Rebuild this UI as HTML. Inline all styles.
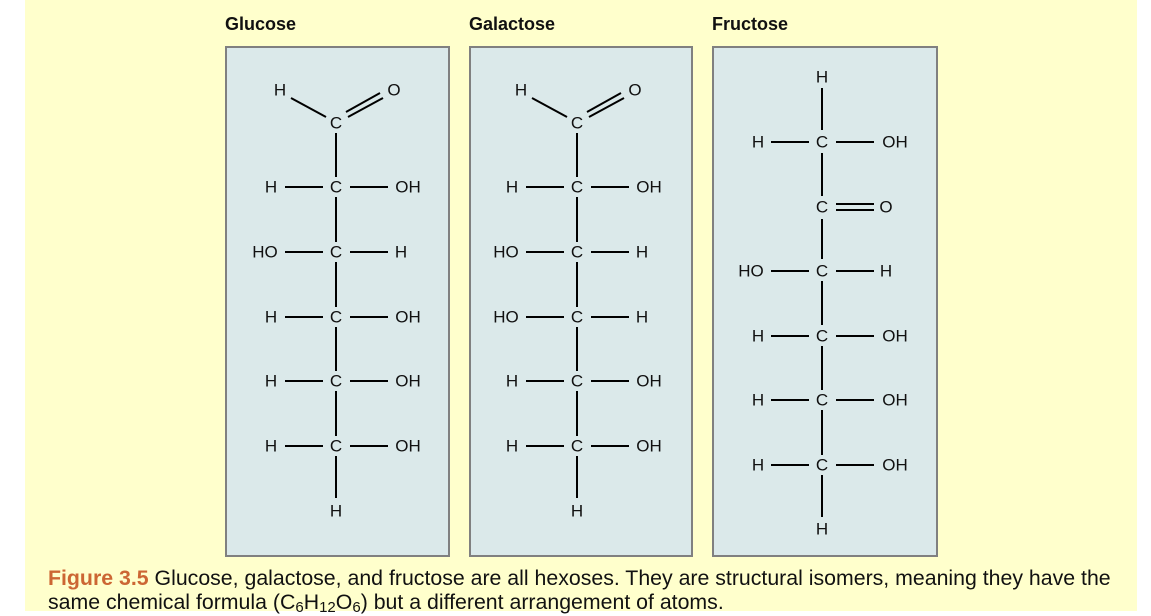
<!DOCTYPE html>
<html><head><meta charset="utf-8"><style>
html,body{margin:0;padding:0;background:#fff;}
body{width:1151px;height:611px;position:relative;overflow:hidden;font-family:"Liberation Sans",sans-serif;}
.bg{position:absolute;left:25px;top:0;width:1112px;height:611px;background:#ffffcc;}
svg{position:absolute;left:0;top:0;}
svg text{font-family:"Liberation Sans",sans-serif;font-size:17px;fill:#111;text-anchor:middle;dominant-baseline:central;}
svg line{stroke:#000;stroke-width:2;}
.t{font-weight:bold;font-size:18px;text-anchor:start;}
.cap{position:absolute;left:48px;top:566px;font-size:21.3px;line-height:24px;color:#111;width:1085px;white-space:nowrap;}
.cap b{color:#cc6633;}
.cap sub{font-size:15px;vertical-align:-3px;line-height:0;}
</style></head><body>
<div class="bg"></div>
<svg width="1151" height="611">
<text class="t" x="225" y="24">Glucose</text>
<text class="t" x="469" y="24">Galactose</text>
<text class="t" x="712" y="24">Fructose</text>
<rect x="226" y="47" width="223" height="509" fill="#dbe9ea" stroke="#808080" stroke-width="2"/>
<rect x="470" y="47" width="222" height="509" fill="#dbe9ea" stroke="#808080" stroke-width="2"/>
<rect x="713" y="47" width="224" height="509" fill="#dbe9ea" stroke="#808080" stroke-width="2"/>

<!-- Glucose -->
<g transform="translate(336,0)">
<text x="-56" y="90">H</text><line x1="-45" y1="98" x2="-10" y2="117"/>
<text x="0" y="123">C</text>
<line x1="10" y1="112" x2="44" y2="93"/><line x1="12" y1="117" x2="47" y2="98"/>
<text x="58" y="90">O</text>
<line x1="0" y1="133" x2="0" y2="177"/>
<g transform="translate(0,187)"><text x="-65">H</text><line x1="-51" x2="-13"/><text x="0">C</text><line x1="14" x2="52"/><text x="72">OH</text><line y1="10" y2="55"/></g>
<g transform="translate(0,252)"><text x="-71">HO</text><line x1="-51" x2="-13"/><text x="0">C</text><line x1="14" x2="52"/><text x="65">H</text><line y1="10" y2="55"/></g>
<g transform="translate(0,317)"><text x="-65">H</text><line x1="-51" x2="-13"/><text x="0">C</text><line x1="14" x2="52"/><text x="72">OH</text><line y1="10" y2="54"/></g>
<g transform="translate(0,381)"><text x="-65">H</text><line x1="-51" x2="-13"/><text x="0">C</text><line x1="14" x2="52"/><text x="72">OH</text><line y1="10" y2="55"/></g>
<g transform="translate(0,446)"><text x="-65">H</text><line x1="-51" x2="-13"/><text x="0">C</text><line x1="14" x2="52"/><text x="72">OH</text><line y1="10" y2="52"/></g>
<text x="0" y="511">H</text>
</g>

<!-- Galactose -->
<g transform="translate(577,0)">
<text x="-56" y="90">H</text><line x1="-45" y1="98" x2="-10" y2="117"/>
<text x="0" y="123">C</text>
<line x1="10" y1="112" x2="44" y2="93"/><line x1="12" y1="117" x2="47" y2="98"/>
<text x="58" y="90">O</text>
<line x1="0" y1="133" x2="0" y2="177"/>
<g transform="translate(0,187)"><text x="-65">H</text><line x1="-51" x2="-13"/><text x="0">C</text><line x1="14" x2="52"/><text x="72">OH</text><line y1="10" y2="55"/></g>
<g transform="translate(0,252)"><text x="-71">HO</text><line x1="-51" x2="-13"/><text x="0">C</text><line x1="14" x2="52"/><text x="65">H</text><line y1="10" y2="55"/></g>
<g transform="translate(0,317)"><text x="-71">HO</text><line x1="-51" x2="-13"/><text x="0">C</text><line x1="14" x2="52"/><text x="65">H</text><line y1="10" y2="54"/></g>
<g transform="translate(0,381)"><text x="-65">H</text><line x1="-51" x2="-13"/><text x="0">C</text><line x1="14" x2="52"/><text x="72">OH</text><line y1="10" y2="55"/></g>
<g transform="translate(0,446)"><text x="-65">H</text><line x1="-51" x2="-13"/><text x="0">C</text><line x1="14" x2="52"/><text x="72">OH</text><line y1="10" y2="52"/></g>
<text x="0" y="511">H</text>
</g>

<!-- Fructose -->
<g transform="translate(822,0)">
<text x="0" y="77">H</text>
<line x1="0" y1="88" x2="0" y2="130"/>
<g transform="translate(0,142)"><text x="-64">H</text><line x1="-51" x2="-13"/><text x="0">C</text><line x1="14" x2="52"/><text x="73">OH</text><line y1="11" y2="54"/></g>
<g transform="translate(0,207)"><text x="0">C</text><line x1="14" y1="-3" x2="52" y2="-3"/><line x1="14" y1="3" x2="52" y2="3"/><text x="64">O</text><line y1="12" y2="52"/></g>
<g transform="translate(0,271)"><text x="-71">HO</text><line x1="-51" x2="-13"/><text x="0">C</text><line x1="14" x2="52"/><text x="64">H</text><line y1="10" y2="54"/></g>
<g transform="translate(0,336)"><text x="-64">H</text><line x1="-51" x2="-13"/><text x="0">C</text><line x1="14" x2="52"/><text x="73">OH</text><line y1="10" y2="54"/></g>
<g transform="translate(0,400)"><text x="-64">H</text><line x1="-51" x2="-13"/><text x="0">C</text><line x1="14" x2="52"/><text x="73">OH</text><line y1="10" y2="55"/></g>
<g transform="translate(0,465)"><text x="-64">H</text><line x1="-51" x2="-13"/><text x="0">C</text><line x1="14" x2="52"/><text x="73">OH</text><line y1="10" y2="52"/></g>
<text x="0" y="529">H</text>
</g>
</svg>
<div class="cap"><b>Figure 3.5</b> Glucose, galactose, and fructose are all hexoses. They are structural isomers, meaning they have the<br>same chemical formula (C<sub>6</sub>H<sub>12</sub>O<sub>6</sub>) but a different arrangement of atoms.</div>
</body></html>
